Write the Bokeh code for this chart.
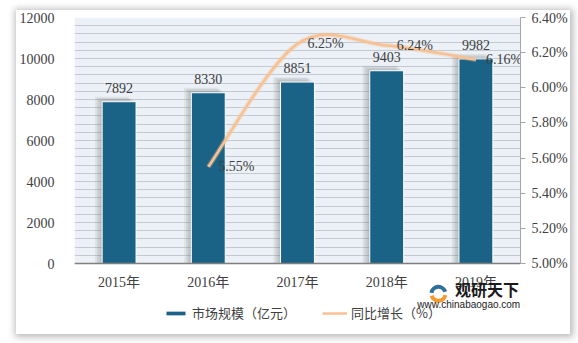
from bokeh.plotting import figure
from bokeh.models import (Range1d, LinearAxis, FixedTicker, PrintfTickFormatter,
                          Legend, LegendItem, Label, Span, BoxAnnotation)
from bokeh.core.properties import value
from bokeh.embed import file_html
from bokeh.resources import INLINE

# ---- data ----
years = ["2015年", "2016年", "2017年", "2018年", "2019年"]
market = [7892, 8330, 8851, 9403, 9982]
growth_years_idx = [1, 2, 3, 4]
growth = [5.55, 6.25, 6.24, 6.16]
growth_labels = ["5.55%", "6.25%", "6.24%", "6.16%"]
left_ticks = [0, 2000, 4000, 6000, 8000, 10000, 12000]
right_ticks = [5.0, 5.2, 5.4, 5.6, 5.8, 6.0, 6.2, 6.4]
LMAX = 12000
RMIN, RMAX = 5.0, 6.4

SERIF = "'Liberation Serif', 'Noto Sans CJK SC'"
CJK = "'Noto Sans CJK SC'"
TXT = "#404040"
BAR = "#1b6386"
LINE = "#f8c193"

# layout (pixels inside the card)
PLOT_H = 246      # height of the value area
BELOW = 71        # space under the value area (labels, legend)
frac = BELOW / PLOT_H
ymin = -LMAX * frac
rmin = RMIN - (RMAX - RMIN) * frac

xs = list(range(len(years)))

p = figure(width=554, height=324, output_backend="svg", toolbar_location=None,
           x_range=Range1d(-0.5, 4.5), y_range=Range1d(ymin, LMAX),
           x_axis_location=None,
           min_border_left=50, min_border_right=50, min_border_top=7,
           min_border_bottom=0,
           styles={"margin-left": "16px", "margin-top": "10px",
                   "box-shadow": "1px 1px 7px 2px rgba(0,0,0,0.28)"})
p.background_fill_color = "white"
p.border_fill_color = "white"
p.outline_line_color = None
p.extra_y_ranges = {"pct": Range1d(rmin, RMAX)}

# value-area background
p.add_layout(BoxAnnotation(bottom=0, top=LMAX, fill_color="#ebf1f7",
                           fill_alpha=1, line_color=None, level="image"))

# grid
p.xgrid.grid_line_color = None
p.ygrid.ticker = FixedTicker(ticks=list(range(0, LMAX + 1, 400)))
p.ygrid.grid_line_color = "#c4cad1"
p.ygrid.grid_line_width = 1

# left axis
ya = p.yaxis[0]
ya.ticker = FixedTicker(ticks=left_ticks)
ya.axis_line_color = None
ya.major_tick_line_color = None
ya.minor_tick_line_color = None
ya.major_label_text_font = SERIF
ya.major_label_text_font_size = "14px"
ya.major_label_text_color = TXT
ya.major_label_standoff = 14

# right axis
ra = LinearAxis(y_range_name="pct", ticker=FixedTicker(ticks=right_ticks),
                formatter=PrintfTickFormatter(format="%.2f%%"),
                bounds=(RMIN, RMAX))
ra.axis_line_color = "#a6a6a6"
ra.major_tick_line_color = "#a6a6a6"
ra.major_tick_out = 5
ra.major_tick_in = 0
ra.minor_tick_line_color = None
ra.major_label_text_font = SERIF
ra.major_label_text_font_size = "14px"
ra.major_label_text_color = TXT
ra.major_label_standoff = 6
p.add_layout(ra, "right")

# category axis line and labels
p.add_layout(Span(location=0, dimension="width", line_color="#808080",
                  line_width=1.5))
p.text(x=xs, y=[0] * len(xs), text=years, text_align="center",
       text_baseline="middle", y_offset=19, text_font=value(SERIF),
       text_font_size="14px", text_color=TXT)

# bar shadows
for k in range(4):
    off = 0.02 * (k + 1)
    p.vbar(x=[x - off for x in xs], top=[m + 60 * (k + 1) for m in market],
           bottom=0, width=0.38, fill_color="#606060", fill_alpha=0.1,
           line_color=None)

bars = p.vbar(x=xs, top=market, bottom=0, width=0.38, fill_color=BAR,
              line_color="white", line_width=1)

p.text(x=xs, y=market, text=[str(m) for m in market], text_align="center",
       text_baseline="bottom", y_offset=-9, text_font=value("Liberation Serif"),
       text_font_size="14px", text_color=TXT)

# smooth line (Catmull-Rom bezier through data points)
gx = [float(i) for i in growth_years_idx]
gy = growth
n = len(gx)
x0s, y0s, x1s, y1s, cx0, cy0, cx1, cy1 = [], [], [], [], [], [], [], []
for i in range(n - 1):
    pm = max(i - 1, 0)
    pp = min(i + 2, n - 1)
    x0s.append(gx[i]); y0s.append(gy[i])
    x1s.append(gx[i + 1]); y1s.append(gy[i + 1])
    cx0.append(gx[i] + (gx[i + 1] - gx[pm]) / 6)
    cy0.append(gy[i] + (gy[i + 1] - gy[pm]) / 6)
    cx1.append(gx[i + 1] - (gx[pp] - gx[i]) / 6)
    cy1.append(gy[i + 1] - (gy[pp] - gy[i]) / 6)
p.bezier(x0=x0s, y0=y0s, x1=x1s, y1=y1s, cx0=cx0, cy0=cy0, cx1=cx1, cy1=cy1,
         line_color=LINE, line_width=5, line_alpha=0.35, y_range_name="pct")
curve = p.bezier(x0=x0s, y0=y0s, x1=x1s, y1=y1s, cx0=cx0, cy0=cy0, cx1=cx1,
                 cy1=cy1, line_color=LINE, line_width=2.5, y_range_name="pct")

p.text(x=gx, y=gy, text=growth_labels, text_align="left",
       text_baseline="middle", x_offset=10, text_font=value("Liberation Serif"),
       text_font_size="14px", text_color=TXT, y_range_name="pct")

# legend
legend = Legend(items=[LegendItem(label="市场规模（亿元）", renderers=[bars]),
                       LegendItem(label="同比增长（%）", renderers=[curve])],
                orientation="horizontal", location=(89, 12),
                border_line_color=None, background_fill_alpha=0,
                glyph_width=25, glyph_height=6, label_standoff=4, spacing=26,
                padding=0, margin=0,
                label_text_font=CJK, label_text_font_size="13px",
                label_text_color=TXT)
p.add_layout(legend, "center")

# watermark (kept inside the plotting frame)
p.annular_wedge(x=[3.58, 3.58], y=[-1480, -1480], inner_radius=5, outer_radius=9,
                inner_radius_units="screen", outer_radius_units="screen",
                start_angle=[0.3, 3.4], end_angle=[3.0, 6.1],
                fill_color=["#2e6f9e", "#f29a2e"], line_color=None)
p.add_layout(Label(x=4.125, y=-1250, text="观研天下", text_font=CJK,
                   text_font_size="16px", text_font_style="bold",
                   text_color="#1a1a1a", text_align="center",
                   text_baseline="middle"))
p.add_layout(Label(x=3.92, y=-2000, text="www.chinabaogao.com",
                   text_font="Liberation Sans", text_font_size="10px",
                   text_color="#222222", text_align="center",
                   text_baseline="middle"))

open("out.html", "w").write(file_html(p, INLINE))
